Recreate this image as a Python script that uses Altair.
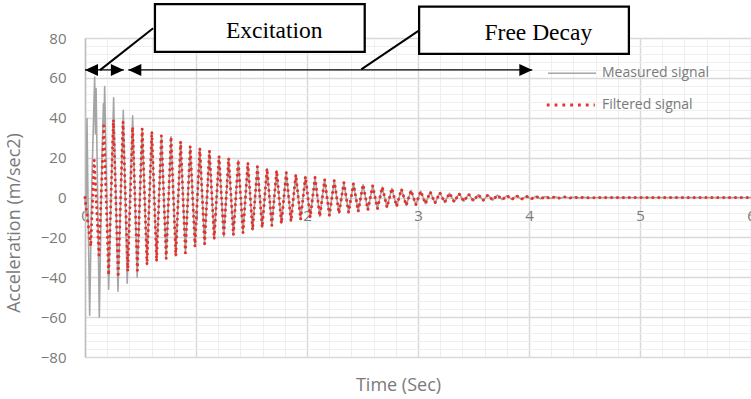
import altair as alt
import pandas as pd

# ---------------- values ----------------
PERIOD = 0.0865      # s, one oscillation cycle
FIRST_PEAK = 0.083   # s, first positive peak of the filtered signal
HALF = 0.043         # s, peak -> following trough

# filtered signal
filt_start_t = [0.0, 0.052]
filt_start_a = [0.0, -24.5]
filt_peaks = [18.7, 36, 39, 38, 35.4, 34.6, 33, 31, 30.4, 28, 25.7, 24.7,
              23.4, 20.7, 19.7, 18.7, 17.4, 15.4, 14.5, 13.5, 12.5, 11.5, 10.5, 10,
              9, 8.5, 7.5, 7, 6.5, 5.8, 5.2, 4.6, 4.2, 3.6, 3.2, 2.8,
              2.5, 2.2, 2.0, 1.7, 1.5, 1.3, 1.2, 1.0, 0.9, 0.7, 0.6, 0.5,
              0.4, 0.3, 0.2, 0.15]
filt_troughs = [-29, -39, -40, -37, -36.6, -33.7, -32, -30.7, -29.3, -27.8, -24.6, -23.3,
                -20.8, -19.6, -18.8, -17.8, -16.3, -15, -14, -13, -12, -11, -10, -9.5,
                -9, -8, -7.5, -7, -6.2, -5.6, -5, -4.5, -4, -3.6, -3.1, -2.8,
                -2.5, -2.2, -1.9, -1.7, -1.5, -1.3, -1.1, -1.0, -0.9, -0.8, -0.6, -0.5,
                -0.4, -0.3, -0.2, -0.15]
filt_tail_t = [4.62, 6.0]
filt_tail_a = [0.0, 0.0]

# measured signal during the excitation (afterwards it follows the filtered one)
meas_exc_t = [0.000, 0.010, 0.018, 0.030, 0.042, 0.062, 0.087, 0.094, 0.100, 0.129,
              0.152, 0.166, 0.171, 0.177, 0.213, 0.258, 0.297, 0.345, 0.380, 0.429, 0.470]
meas_exc_a = [0, -8, 39.6, -15, -59, 8, 60.4, 32, 54.6, -60,
              18, 47, 36, 55.7, -46, 50, -47, 43.7, -43, 41, -40]

# annotations (time / acceleration units)
phase_names = ["Excitation", "Free Decay"]
phase_start = [0.0, 0.39]
phase_end = [0.35, 4.03]
phase_arrow_a = [64, 64]
box_t0 = [0.63, 3.01]
box_t1 = [2.52, 4.90]
box_a0 = [73.0, 72.0]
box_a1 = [97.0, 95.7]
label_t = [1.705, 4.084]
label_a = [79.8, 79.0]
conn_t0 = [0.614, 3.007]
conn_a0 = [84.9, 83.7]
conn_t1 = [0.135, 2.489]
conn_a1 = [63.9, 64.3]

x_major = [0, 1, 2, 3, 4, 5, 6]
x_minor = [round(i * 0.2, 1) for i in range(31)]
y_major = list(range(-80, 81, 20))
y_minor = list(range(-80, 81, 4))

# ---------------- tables ----------------
ft, fa = list(filt_start_t), list(filt_start_a)
for k, (p, q) in enumerate(zip(filt_peaks, filt_troughs)):
    tp = FIRST_PEAK + k * PERIOD
    ft += [tp, tp + HALF]
    fa += [p, q]
ft += filt_tail_t
fa += filt_tail_a
filtered = pd.DataFrame({"t": ft, "a": fa, "series": "Filtered signal"})

cut = meas_exc_t[-1]
mt = list(meas_exc_t) + [t for t in ft if t > cut]
ma = list(meas_exc_a) + [a for t, a in zip(ft, fa) if t > cut]
measured = pd.DataFrame({"t": mt, "a": ma, "series": "Measured signal"})

ann = pd.DataFrame({
    "name": phase_names, "start": phase_start, "end": phase_end, "ay": phase_arrow_a,
    "bt0": box_t0, "bt1": box_t1, "ba0": box_a0, "ba1": box_a1,
    "lt": label_t, "la": label_a,
    "ct0": conn_t0, "ca0": conn_a0, "ct1": conn_t1, "ca1": conn_a1,
})

# ---------------- styling ----------------
FONT = "Open Sans"
GREY_TXT = "#7a7a7a"
xs = alt.Scale(domain=[0, 6], nice=False, zero=False)
ys = alt.Scale(domain=[-80, 80], nice=False)

minor_x_axis = alt.Axis(orient="bottom", values=x_minor, grid=True, gridColor="#efefef",
                        gridWidth=1, labels=False, ticks=False, domain=False,
                        title="Time (Sec)", titleX=313, titleY=33, titleBaseline="alphabetic",
                        titleFont=FONT, titleFontSize=18, titleFontWeight="normal",
                        titleColor=GREY_TXT)
minor_y_axis = alt.Axis(orient="left", values=y_minor, grid=True, gridColor="#efefef",
                        gridWidth=1, labels=False, ticks=False, domain=False, title=None)
major_x_axis = alt.Axis(orient="bottom", values=x_major, grid=True, gridColor="#d9d9d9",
                        gridWidth=1.5, labels=False, ticks=False, domain=False, title=None)
major_y_axis = alt.Axis(orient="left", values=y_major, grid=True, gridColor="#d9d9d9",
                        gridWidth=1.5, ticks=False, tickSize=0, labelPadding=19,
                        labelFont=FONT, labelFontSize=15, labelColor=GREY_TXT,
                        domain=True, domainColor="#bfbfbf", domainWidth=1.5,
                        title="Acceleration (m/sec2)", titleX=-71, titleY=184.5,
                        titleAngle=270, titleBaseline="middle", titleAlign="center",
                        titleFont=FONT, titleFontSize=18, titleFontWeight="normal",
                        titleColor=GREY_TXT)
label_x_axis = alt.Axis(orient="bottom", offset=-159.5, values=x_major, grid=False,
                        ticks=False, tickSize=0, domain=False, labelPadding=11,
                        labelFlush=False, format="d", labelFont=FONT, labelFontSize=15,
                        labelColor=GREY_TXT, title=None)

leg_meas = alt.Legend(orient="none", legendX=462, legendY=10.3, title=None,
                      symbolType="stroke", symbolSize=2304, symbolStrokeWidth=1.5,
                      labelFont=FONT, labelFontSize=14, labelColor=GREY_TXT,
                      labelOffset=5, padding=0)
leg_filt = alt.Legend(orient="none", legendX=460.3, legendY=41.5, title=None,
                      symbolType="stroke", symbolSize=2304, symbolStrokeWidth=3,
                      symbolDash=[2.8, 5.0],
                      labelFont=FONT, labelFontSize=14, labelColor=GREY_TXT,
                      labelOffset=5.7, padding=0)

gray = alt.Chart(measured).mark_line(strokeWidth=1.6, strokeJoin="round").encode(
    x=alt.X("t:Q", scale=xs, axis=minor_x_axis),
    y=alt.Y("a:Q", scale=ys, axis=minor_y_axis),
    color=alt.Color("series:N", scale=alt.Scale(domain=["Measured signal"], range=["#a5a5a5"]),
                    legend=leg_meas),
)

red = alt.Chart(filtered).mark_line(strokeWidth=3, strokeDash=[0.1, 5.8],
                                    strokeCap="round", strokeJoin="round").encode(
    x=alt.X("t:Q", scale=xs, axis=major_x_axis),
    y=alt.Y("a:Q", scale=ys, axis=major_y_axis),
    color=alt.Color("series:N", scale=alt.Scale(domain=["Filtered signal"], range=["#e5322d"]),
                    legend=leg_filt),
)

base = alt.Chart(ann)
shaft = base.mark_rule(color="black", strokeWidth=1.25).encode(
    x=alt.X("start:Q", scale=xs, axis=label_x_axis),
    x2="end:Q",
    y=alt.Y("ay:Q", scale=ys, axis=None),
)
LEFT_HEAD = "M0,0L1,-0.46L1,0.46Z"
RIGHT_HEAD = "M0,0L-1,-0.46L-1,0.46Z"
head_l = base.mark_point(shape=LEFT_HEAD, filled=True, color="black", size=676,
                         opacity=1, strokeWidth=0).encode(
    x=alt.X("start:Q", scale=xs, axis=None), y=alt.Y("ay:Q", scale=ys, axis=None))
head_r = base.mark_point(shape=RIGHT_HEAD, filled=True, color="black", size=676,
                         opacity=1, strokeWidth=0).encode(
    x=alt.X("end:Q", scale=xs, axis=None), y=alt.Y("ay:Q", scale=ys, axis=None))
conn = base.mark_rule(color="black", strokeWidth=2).encode(
    x=alt.X("ct0:Q", scale=xs, axis=None), x2="ct1:Q",
    y=alt.Y("ca0:Q", scale=ys, axis=None), y2="ca1:Q")
boxes = base.mark_rect(fill="white", stroke="black", strokeWidth=2.25).encode(
    x=alt.X("bt0:Q", scale=xs, axis=None), x2="bt1:Q",
    y=alt.Y("ba0:Q", scale=ys, axis=None), y2="ba1:Q")
texts = base.mark_text(font="Liberation Serif", fontSize=23.5, color="black",
                       align="center", baseline="alphabetic").encode(
    x=alt.X("lt:Q", scale=xs, axis=None), y=alt.Y("la:Q", scale=ys, axis=None),
    text="name:N")

chart = alt.layer(gray, red, shaft, head_l, head_r, conn, boxes, texts).resolve_axis(
    x="independent", y="independent"
).resolve_scale(color="independent").properties(
    width=666, height=319,
    autosize=alt.AutoSizeParams(type="none"),
    padding={"left": 85, "top": 38, "right": 0, "bottom": 42},
    background="white",
).configure_view(stroke=None)

chart.save("out.html", embed_options={"renderer": "svg", "actions": False})
